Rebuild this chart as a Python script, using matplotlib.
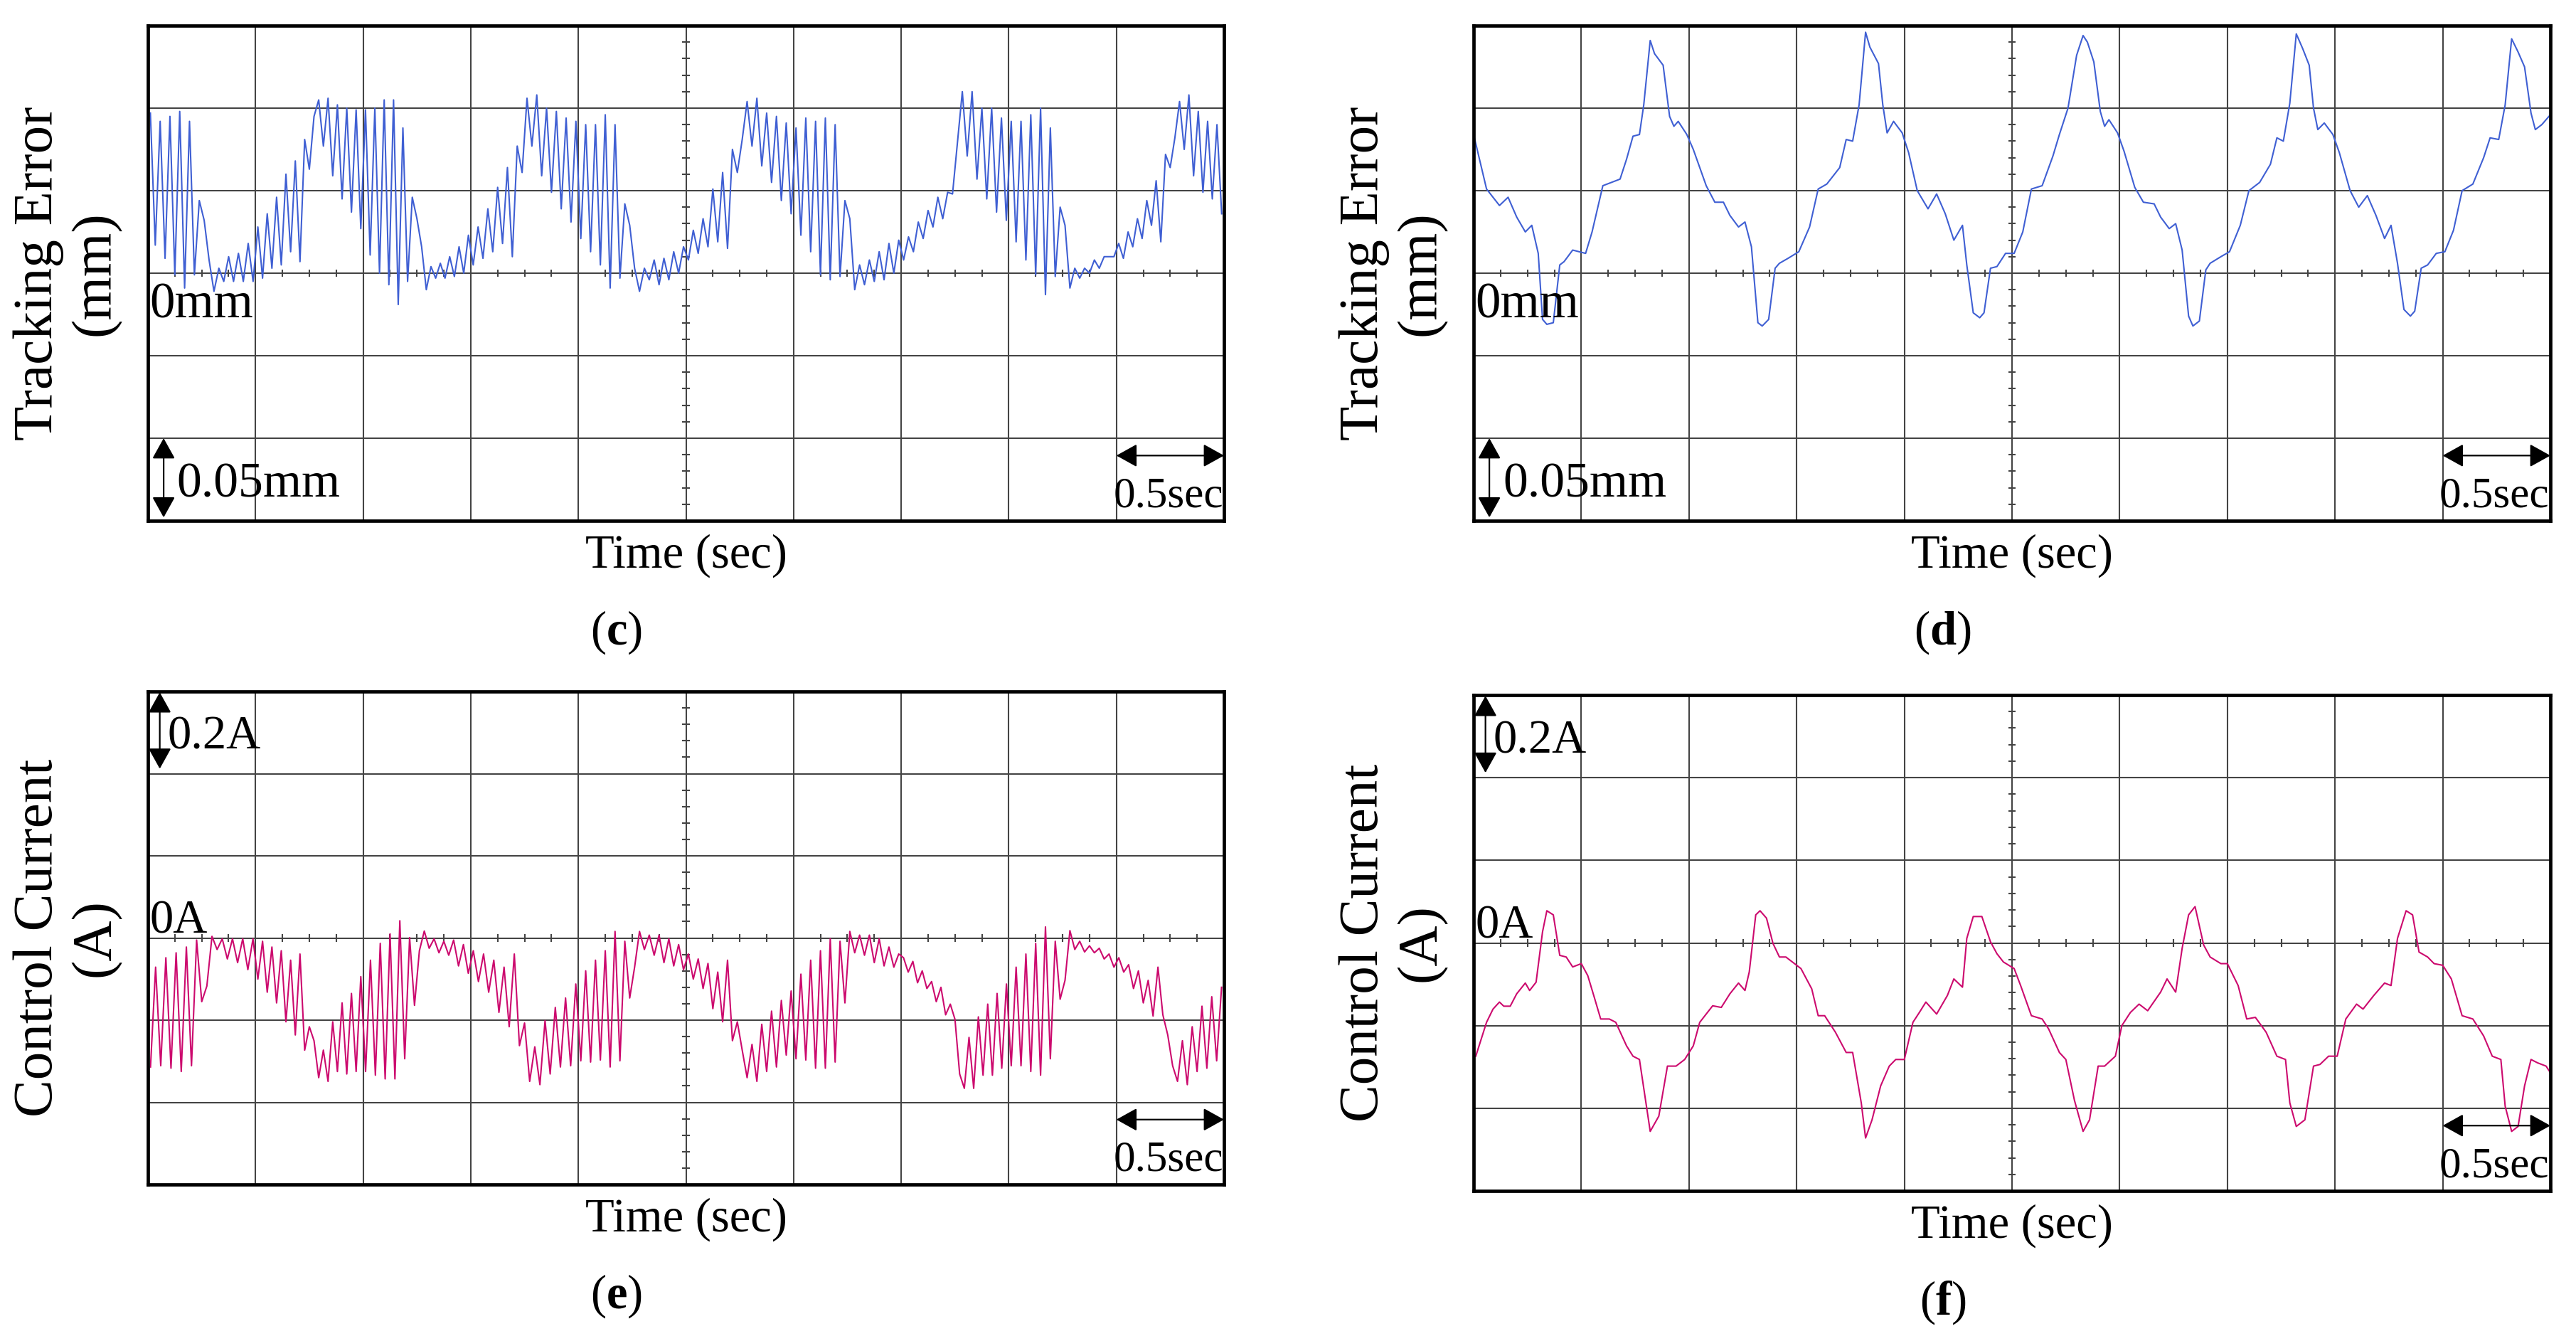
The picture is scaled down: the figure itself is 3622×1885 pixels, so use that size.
import numpy as np
import matplotlib.pyplot as plt

plt.rcParams['font.family'] = 'Liberation Serif'
plt.rcParams['mathtext.fontset'] = 'custom'
plt.rcParams['mathtext.rm'] = 'Liberation Serif'
plt.rcParams['mathtext.bf'] = 'Liberation Serif:bold'

# (c) tracking error [mm], one row per 0.5 s division, samples evenly spread in the division
c_err = [
    [0.097, 0.017, 0.092, 0.009, 0.095, -0.001, 0.098, -0.009, 0.092, -0.001, 0.044,
     0.032, 0.008, -0.011, 0.003, -0.005, 0.010, -0.005, 0.012, -0.005, 0.018, -0.005],
    [0.028, -0.003, 0.036, 0.003, 0.046, 0.005, 0.060, 0.013, 0.068, 0.007, 0.081, 0.063,
     0.095, 0.105, 0.077, 0.106, 0.059, 0.102, 0.045, 0.100, 0.037, 0.099, 0.027],
    [0.099, 0.011, 0.100, 0.000, 0.105, -0.007, 0.105, -0.019, 0.088, -0.005, 0.046, 0.033,
     0.016, -0.010, 0.004, -0.003, 0.006, -0.003, 0.010, -0.002, 0.016, 0.000, 0.023],
    [0.005, 0.028, 0.009, 0.039, 0.013, 0.052, 0.018, 0.064, 0.010, 0.077, 0.061,
     0.106, 0.077, 0.108, 0.059, 0.100, 0.049, 0.098, 0.039, 0.094, 0.031, 0.092],
    [0.021, 0.090, 0.013, 0.090, 0.005, 0.096, -0.009, 0.090, -0.003, 0.042, 0.029,
     0.003, -0.011, 0.003, -0.004, 0.008, -0.007, 0.009, -0.004, 0.013, 0.000, 0.016],
    [0.008, 0.026, 0.012, 0.033, 0.016, 0.051, 0.019, 0.061, 0.015, 0.075, 0.061,
     0.081, 0.104, 0.077, 0.106, 0.065, 0.097, 0.055, 0.095, 0.044, 0.091, 0.036],
    [0.088, 0.023, 0.094, 0.013, 0.092, -0.001, 0.094, -0.004, 0.090, -0.002, 0.044,
     0.033, -0.010, 0.005, -0.007, 0.008, -0.005, 0.013, -0.004, 0.018, 0.000, 0.020],
    [0.008, 0.022, 0.013, 0.031, 0.021, 0.038, 0.028, 0.046, 0.033, 0.049, 0.048,
     0.079, 0.110, 0.071, 0.110, 0.057, 0.100, 0.045, 0.100, 0.037, 0.094, 0.032],
    [0.092, 0.019, 0.092, 0.008, 0.096, -0.001, 0.100, -0.013, 0.088, -0.002, 0.040,
     0.029, -0.009, 0.003, -0.003, 0.003, 0.000, 0.008, 0.003, 0.010, 0.010, 0.010],
    [0.018, 0.009, 0.025, 0.016, 0.033, 0.021, 0.044, 0.029, 0.056, 0.019, 0.072, 0.064,
     0.082, 0.104, 0.075, 0.108, 0.059, 0.098, 0.049, 0.092, 0.045, 0.090, 0.036],
]

# (e) control current [A], same layout
e_cur = [
    [-0.314, -0.071, -0.311, -0.048, -0.317, -0.036, -0.325, -0.022, -0.311, -0.005, -0.155,
     -0.117, 0.004, -0.028, -0.002, -0.051, -0.002, -0.060, -0.002, -0.077, -0.002],
    [-0.100, -0.008, -0.132, -0.022, -0.158, -0.031, -0.204, -0.054, -0.236, -0.039, -0.273, -0.216,
     -0.250, -0.340, -0.273, -0.349, -0.204, -0.325, -0.158, -0.331, -0.135, -0.325, -0.094],
    [-0.325, -0.054, -0.334, -0.013, -0.343, 0.010, -0.343, 0.042, -0.294, 0.001, -0.164,
     -0.031, 0.017, -0.025, -0.002, -0.036, -0.008, -0.042, -0.005, -0.068, -0.016, -0.086],
    [-0.031, -0.106, -0.039, -0.132, -0.054, -0.181, -0.071, -0.216, -0.039, -0.262, -0.207,
     -0.349, -0.265, -0.357, -0.201, -0.331, -0.169, -0.314, -0.146, -0.311, -0.112],
    [-0.299, -0.080, -0.302, -0.054, -0.297, -0.031, -0.314, 0.016, -0.299, -0.008, -0.146,
     -0.071, 0.016, -0.028, 0.007, -0.042, 0.007, -0.060, -0.002, -0.068, -0.016, -0.077],
    [-0.039, -0.100, -0.051, -0.123, -0.062, -0.172, -0.083, -0.204, -0.054, -0.250, -0.204,
     -0.273, -0.340, -0.259, -0.349, -0.210, -0.325, -0.178, -0.314, -0.152, -0.285, -0.129],
    [-0.294, -0.088, -0.297, -0.054, -0.317, -0.031, -0.317, -0.002, -0.302, -0.008, -0.158,
     0.016, -0.036, 0.007, -0.042, 0.007, -0.060, -0.002, -0.068, -0.022, -0.071, -0.039],
    [-0.048, -0.083, -0.057, -0.109, -0.080, -0.123, -0.106, -0.155, -0.120, -0.187, -0.161, -0.198,
     -0.331, -0.366, -0.242, -0.366, -0.192, -0.334, -0.161, -0.334, -0.135, -0.317, -0.112],
    [-0.311, -0.071, -0.311, -0.039, -0.325, -0.013, -0.334, 0.027, -0.294, -0.008, -0.149,
     -0.103, 0.018, -0.028, -0.008, -0.034, -0.019, -0.036, -0.025, -0.051, -0.039, -0.071],
    [-0.048, -0.083, -0.065, -0.123, -0.080, -0.158, -0.103, -0.190, -0.071, -0.187, -0.236,
     -0.311, -0.349, -0.250, -0.357, -0.216, -0.325, -0.166, -0.317, -0.143, -0.299, -0.120],
]

# (d) tracking error [mm]
d_time = [0.00, 0.06, 0.12, 0.16, 0.20, 0.24, 0.27, 0.30, 0.32, 0.34,
          0.37, 0.40, 0.42, 0.46, 0.52, 0.55, 0.60, 0.68, 0.71, 0.74,
          0.77, 0.79, 0.82, 0.84, 0.88, 0.91, 0.93, 0.95, 0.99, 1.02,
          1.08, 1.12, 1.16, 1.19, 1.23, 1.26, 1.29, 1.32, 1.34, 1.37,
          1.40, 1.42, 1.46, 1.51, 1.56, 1.60, 1.64, 1.70, 1.73, 1.76,
          1.79, 1.82, 1.84, 1.88, 1.90, 1.92, 1.95, 1.99, 2.02, 2.06,
          2.11, 2.15, 2.19, 2.23, 2.27, 2.29, 2.32, 2.35, 2.37, 2.40,
          2.43, 2.47, 2.51, 2.55, 2.59, 2.64, 2.69, 2.72, 2.76, 2.80,
          2.83, 2.85, 2.88, 2.91, 2.93, 2.95, 2.99, 3.02, 3.07, 3.11,
          3.16, 3.19, 3.23, 3.26, 3.29, 3.32, 3.34, 3.37, 3.40, 3.42,
          3.47, 3.51, 3.56, 3.60, 3.65, 3.70, 3.73, 3.76, 3.79, 3.82,
          3.85, 3.88, 3.90, 3.92, 3.95, 3.99, 4.02, 4.07, 4.11, 4.15,
          4.19, 4.23, 4.26, 4.29, 4.32, 4.35, 4.37, 4.40, 4.43, 4.47,
          4.51, 4.55, 4.59, 4.64, 4.69, 4.72, 4.76, 4.79, 4.82, 4.85,
          4.88, 4.91, 4.93, 4.96, 5.00]
d_err = [0.084, 0.051, 0.041, 0.046, 0.034, 0.025, 0.029, 0.012, -0.028, -0.031,
         -0.030, 0.005, 0.007, 0.014, 0.012, 0.025, 0.053, 0.057, 0.069, 0.083,
         0.084, 0.102, 0.141, 0.133, 0.126, 0.095, 0.089, 0.092, 0.084, 0.075,
         0.053, 0.043, 0.043, 0.035, 0.028, 0.031, 0.016, -0.030, -0.032, -0.028,
         0.003, 0.006, 0.009, 0.013, 0.028, 0.051, 0.054, 0.064, 0.081, 0.080,
         0.102, 0.146, 0.137, 0.127, 0.102, 0.085, 0.092, 0.085, 0.073, 0.050,
         0.039, 0.048, 0.036, 0.020, 0.029, 0.005, -0.024, -0.027, -0.024, 0.003,
         0.004, 0.012, 0.012, 0.025, 0.051, 0.053, 0.071, 0.084, 0.100, 0.132,
         0.144, 0.140, 0.128, 0.098, 0.089, 0.093, 0.085, 0.074, 0.052, 0.043,
         0.042, 0.034, 0.027, 0.030, 0.014, -0.026, -0.032, -0.029, 0.002, 0.006,
         0.010, 0.013, 0.029, 0.050, 0.055, 0.066, 0.082, 0.080, 0.103, 0.145,
         0.136, 0.126, 0.100, 0.087, 0.091, 0.084, 0.073, 0.050, 0.040, 0.047,
         0.035, 0.021, 0.029, 0.006, -0.022, -0.026, -0.023, 0.003, 0.005, 0.012,
         0.013, 0.026, 0.050, 0.054, 0.070, 0.082, 0.081, 0.102, 0.142, 0.134,
         0.125, 0.097, 0.087, 0.090, 0.096]

# (f) control current [A]
f_time = [0.01, 0.06, 0.09, 0.12, 0.14, 0.17, 0.20, 0.24, 0.26, 0.29,
          0.32, 0.34, 0.37, 0.40, 0.43, 0.46, 0.50, 0.53, 0.56, 0.59,
          0.63, 0.66, 0.71, 0.74, 0.77, 0.80, 0.82, 0.86, 0.90, 0.94,
          0.98, 1.02, 1.05, 1.08, 1.11, 1.15, 1.19, 1.23, 1.26, 1.28,
          1.31, 1.33, 1.36, 1.39, 1.42, 1.45, 1.49, 1.52, 1.57, 1.60,
          1.63, 1.68, 1.73, 1.76, 1.80, 1.82, 1.85, 1.89, 1.93, 1.96,
          2.00, 2.04, 2.07, 2.10, 2.15, 2.20, 2.23, 2.27, 2.29, 2.32,
          2.36, 2.40, 2.43, 2.46, 2.51, 2.54, 2.59, 2.64, 2.67, 2.72,
          2.75, 2.79, 2.83, 2.86, 2.90, 2.93, 2.98, 3.01, 3.05, 3.09,
          3.13, 3.19, 3.22, 3.26, 3.29, 3.32, 3.35, 3.39, 3.42, 3.47,
          3.50, 3.55, 3.59, 3.63, 3.68, 3.73, 3.77, 3.79, 3.82, 3.86,
          3.90, 3.93, 3.97, 4.01, 4.05, 4.10, 4.13, 4.18, 4.23, 4.26,
          4.29, 4.33, 4.36, 4.39, 4.43, 4.46, 4.50, 4.54, 4.59, 4.64,
          4.69, 4.73, 4.77, 4.79, 4.82, 4.85, 4.88, 4.91, 4.94, 4.98,
          5.00]
f_cur = [-0.274, -0.192, -0.160, -0.143, -0.153, -0.153, -0.123, -0.097, -0.115, -0.095,
         0.027, 0.078, 0.068, -0.030, -0.034, -0.058, -0.050, -0.079, -0.131, -0.184,
         -0.184, -0.192, -0.249, -0.274, -0.282, -0.387, -0.456, -0.419, -0.298, -0.298,
         -0.282, -0.249, -0.192, -0.172, -0.152, -0.156, -0.123, -0.097, -0.115, -0.070,
         0.068, 0.078, 0.060, -0.001, -0.034, -0.034, -0.050, -0.062, -0.111, -0.176,
         -0.176, -0.216, -0.265, -0.265, -0.387, -0.472, -0.428, -0.346, -0.298, -0.282,
         -0.282, -0.192, -0.168, -0.143, -0.172, -0.127, -0.087, -0.107, 0.011, 0.064,
         0.064, 0.003, -0.026, -0.046, -0.062, -0.103, -0.176, -0.184, -0.208, -0.265,
         -0.282, -0.381, -0.456, -0.428, -0.298, -0.298, -0.274, -0.200, -0.168, -0.148,
         -0.164, -0.119, -0.087, -0.119, -0.013, 0.068, 0.088, -0.005, -0.034, -0.050,
         -0.050, -0.103, -0.184, -0.180, -0.216, -0.274, -0.282, -0.387, -0.444, -0.428,
         -0.298, -0.294, -0.274, -0.274, -0.184, -0.148, -0.160, -0.127, -0.097, -0.103,
         0.011, 0.078, 0.068, -0.022, -0.034, -0.050, -0.054, -0.087, -0.176, -0.184,
         -0.225, -0.274, -0.282, -0.395, -0.456, -0.444, -0.346, -0.282, -0.290, -0.298,
         -0.314]

BLUE = '#3f5fd3'
PINK = '#cc0a6e'
GRID = '#444444'

W, H = 3622, 1885
fig = plt.figure(figsize=(W / 100, H / 100), dpi=100)


def fx(x):
    return x / W


def fy(y):
    return 1 - y / H


def px_axes(x0, y0, x1, y1):
    return fig.add_axes([fx(x0), fy(y1), (x1 - x0) / W, (y1 - y0) / H])


def from_divs(divs):
    t, v = [], []
    for k, vals in enumerate(divs):
        n = len(vals)
        t.extend(0.5 * k + (np.arange(n) + 0.5) * 0.5 / n)
        v.extend(vals)
    return np.array(t), np.array(v)


def scope(ax, ymax, t, v, color):
    dy = ymax / 3
    ax.set_xlim(0, 5)
    ax.set_ylim(-ymax, ymax)
    ax.set_xticks(np.arange(0, 5.01, 0.5))
    ax.set_yticks(np.arange(-3, 4) * dy)
    ax.tick_params(length=0, labelbottom=False, labelleft=False)
    ax.grid(color=GRID, lw=1.5)
    ax.set_axisbelow(True)
    # small ticks on the centre lines
    xt = [x for x in np.arange(0.125, 5, 0.125) if abs(x / 0.5 - round(x / 0.5)) > 0.01]
    yt = [y for y in np.arange(-15, 16) * dy / 5 if abs(y / dy - round(y / dy)) > 0.01]
    ax.vlines(xt, -0.045 * dy, 0.045 * dy, color=GRID, lw=1.5, zorder=1)
    ax.hlines(yt, 2.5 - 0.017, 2.5 + 0.017, color=GRID, lw=1.5, zorder=1)
    for s in ax.spines.values():
        s.set_linewidth(3.4)
        s.set_color('black')
        s.set_zorder(5)
    ax.plot(t, v, color=color, lw=1.5, zorder=3)
    # 0.5 sec scale arrow
    ax.annotate('', xy=(4.5, -2.21 * dy), xytext=(5.0, -2.21 * dy),
                arrowprops=dict(arrowstyle='<|-|>,head_length=0.45,head_width=0.25',
                                color='black', lw=1.6, mutation_scale=40,
                                shrinkA=0, shrinkB=0))
    ax.text(4.485, -2.83 * dy, '0.5sec', fontsize=44, va='baseline', ha='left')


def vscale(ax, t, y0, y1):
    ax.annotate('', xy=(t, y0), xytext=(t, y1),
                arrowprops=dict(arrowstyle='<|-|>,head_length=0.45,head_width=0.25',
                                color='black', lw=1.6, mutation_scale=40,
                                shrinkA=0, shrinkB=0))


boxes = {'c': (208, 36, 1721, 732), 'd': (2072, 36, 3586, 732),
         'e': (208, 972, 1721, 1665), 'f': (2072, 977, 3586, 1674)}

tc, vc = from_divs(c_err)
te, ve = from_divs(e_cur)

for key in 'cdef':
    x0, y0, x1, y1 = boxes[key]
    ax = px_axes(x0, y0, x1, y1)
    if key in 'cd':
        if key == 'c':
            scope(ax, 0.15, tc, vc, BLUE)
        else:
            scope(ax, 0.15, d_time, d_err, BLUE)
        dy = 0.05
        ax.text(0.007, -0.54 * dy, '0mm', fontsize=51, va='baseline', ha='left')
        vscale(ax, 0.073, -2.0 * dy, -2.96 * dy)
        ax.text(0.135, -2.71 * dy, '0.05mm', fontsize=50, va='baseline', ha='left')
        ylab = 'Tracking Error\n(mm)'
    else:
        if key == 'e':
            scope(ax, 0.6, te, ve, PINK)
        else:
            scope(ax, 0.6, f_time, f_cur, PINK)
        dy = 0.2
        ax.text(0.007, 0.06 * dy, '0A', fontsize=48, va='baseline', ha='left')
        vscale(ax, 0.055, 2.99 * dy, 2.06 * dy)
        ax.text(0.091, 2.30 * dy, '0.2A', fontsize=48, va='baseline', ha='left')
        ylab = 'Control Current\n(A)'
    xc = (x0 + x1) / 2
    fig.text(fx(x0 - 114), fy((y0 + y1) / 2), ylab, rotation=90, fontsize=57,
             ha='center', va='center', multialignment='center', linespacing=1.15)
    fig.text(fx(xc), fy(y1 + 66), 'Time (sec)', fontsize=48, ha='center', va='baseline')
    fig.text(fx((x0 - 195 + x1) / 2), fy(y1 + 174), '($\\mathbf{' + key + '}$)',
             fontsize=48, ha='center', va='baseline')

fig.savefig('out.png', dpi=100)
